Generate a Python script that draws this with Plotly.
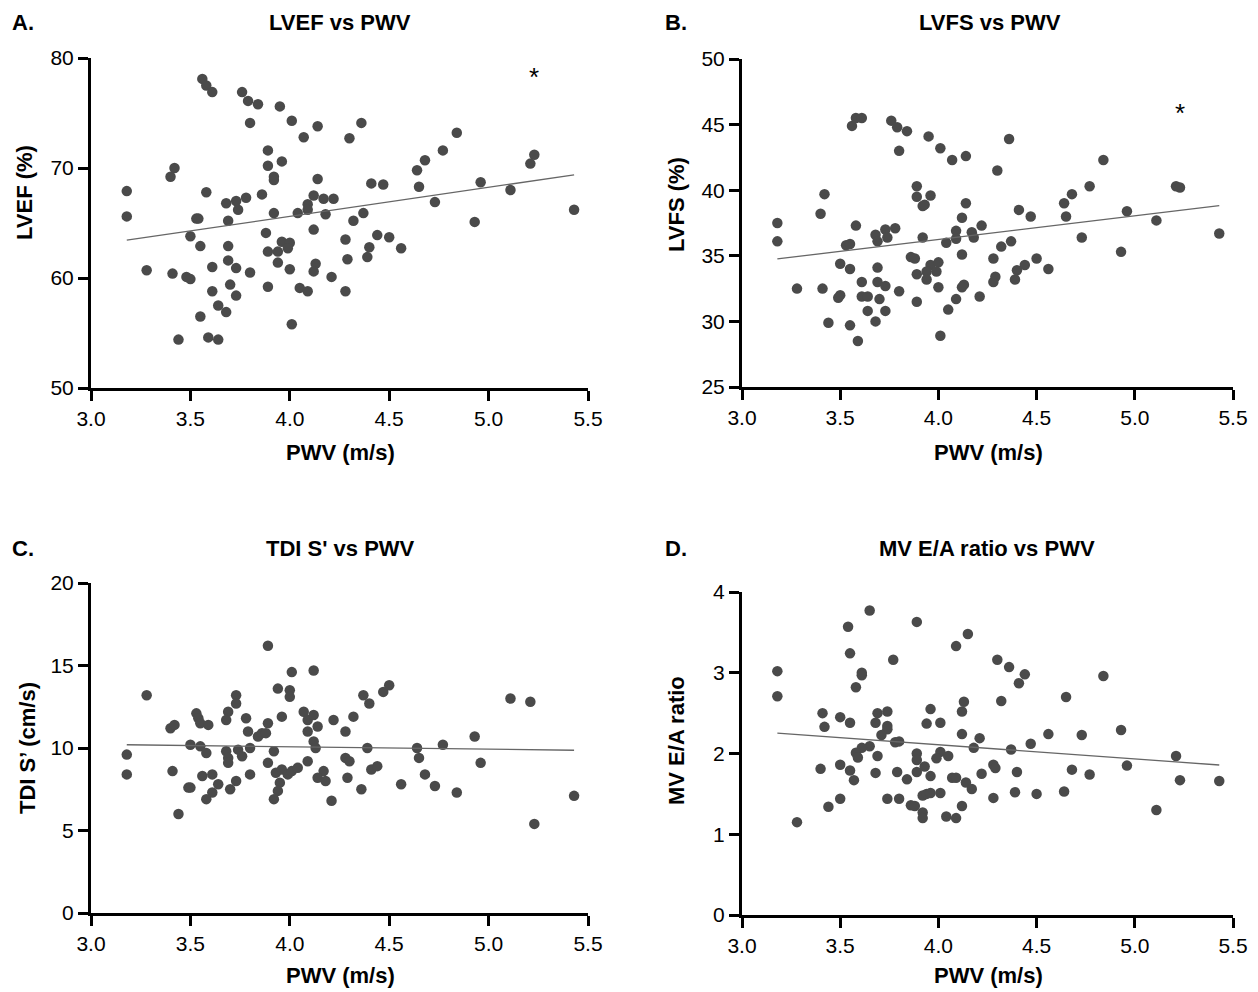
import numpy as np
import plotly.graph_objects as go

# ---------------- data ----------------
lvef_pwv = [3.56,3.58,3.61,3.76,3.79,3.84,3.95,3.80,4.01,4.14,
            4.36,4.07,4.30,4.84,4.77,4.68,4.64,5.23,5.21,3.89,
            3.89,3.96,3.42,3.40,3.92,3.92,4.14,4.41,4.47,4.65,
            4.96,3.18,3.58,3.86,3.78,3.73,3.68,3.74,4.12,4.17,
            4.22,4.09,4.09,5.11,4.73,3.18,3.53,3.54,3.69,3.92,
            4.04,4.18,4.37,4.32,4.93,5.43,4.12,3.50,3.88,3.55,
            3.69,3.96,4.00,3.99,3.89,3.94,4.28,4.44,4.50,4.40,
            4.56,4.39,4.29,3.69,3.61,3.73,3.94,4.13,4.00,4.12,
            3.80,3.28,3.41,3.48,3.50,4.21,3.70,3.89,4.05,4.09,
            4.28,3.61,3.73,3.64,3.68,3.55,4.01,3.44,3.59,3.64]
lvef = [78.1,77.5,76.9,76.9,76.1,75.8,75.6,74.1,74.3,73.8,
        74.1,72.8,72.7,73.2,71.6,70.7,69.8,71.2,70.4,71.6,
        70.2,70.6,70.0,69.2,69.2,68.9,69.0,68.6,68.5,68.3,
        68.7,67.9,67.8,67.6,67.3,67.0,66.8,66.2,67.5,67.2,
        67.2,66.7,66.2,68.0,66.9,65.6,65.4,65.4,65.2,65.9,
        65.9,65.8,65.9,65.2,65.1,66.2,64.4,63.8,64.1,62.9,
        62.9,63.3,63.2,62.7,62.4,62.4,63.5,63.9,63.7,62.8,
        62.7,61.9,61.7,61.6,61.0,60.9,61.4,61.3,60.8,60.6,
        60.5,60.7,60.4,60.1,59.9,60.1,59.4,59.2,59.1,58.8,
        58.8,58.8,58.4,57.5,56.9,56.5,55.8,54.4,54.6,54.4]

lvfs_pwv = [3.56,3.58,3.61,3.76,3.79,3.84,3.95,3.80,4.01,4.07,
            4.14,4.36,4.30,4.84,4.77,4.68,4.64,4.65,5.21,5.23,
            3.42,3.40,3.89,3.89,3.96,3.92,3.93,4.14,4.41,4.47,
            4.96,5.11,3.18,3.18,3.58,4.12,4.22,3.73,3.78,3.68,
            3.74,3.69,4.09,4.09,4.17,4.18,3.92,4.73,4.04,3.53,
            3.55,4.37,4.32,5.43,4.93,4.12,3.86,3.88,3.50,3.55,
            3.69,4.28,4.50,4.56,4.44,4.40,3.96,4.00,3.94,3.99,
            3.89,4.29,4.28,4.39,3.61,3.69,3.73,3.94,4.13,4.12,
            4.00,3.80,3.28,3.41,3.50,3.49,3.61,3.64,3.70,4.09,
            4.21,3.89,3.64,3.73,4.05,3.44,3.55,3.68,4.01,3.59]
lvfs = [44.9,45.5,45.5,45.3,44.8,44.5,44.1,43.0,43.2,42.3,
        42.6,43.9,41.5,42.3,40.3,39.7,39.0,38.0,40.3,40.2,
        39.7,38.2,40.3,39.5,39.6,38.8,38.9,39.0,38.5,38.0,
        38.4,37.7,37.5,36.1,37.3,37.9,37.3,37.0,37.1,36.6,
        36.4,36.1,36.9,36.3,36.8,36.4,36.4,36.4,36.0,35.8,
        35.9,36.1,35.7,36.7,35.3,35.1,34.9,34.8,34.4,34.0,
        34.1,34.8,34.8,34.0,34.3,33.9,34.3,34.5,33.8,33.8,
        33.6,33.4,33.0,33.2,33.0,33.0,32.7,33.2,32.8,32.6,
        32.6,32.3,32.5,32.5,32.0,31.8,31.9,31.9,31.7,31.7,
        31.9,31.5,30.8,30.8,30.9,29.9,29.7,30.0,28.9,28.5]

tdi_pwv = [3.89,4.01,4.12,3.28,3.94,4.00,4.00,3.73,3.73,4.37,
           4.40,4.47,4.50,5.11,5.21,3.53,3.54,3.55,3.59,3.69,
           3.68,3.40,3.42,3.78,3.79,3.89,3.96,3.84,3.86,3.88,
           4.07,4.09,4.12,4.14,4.09,4.22,4.28,4.32,4.93,4.12,
           4.13,4.39,4.64,4.77,3.50,3.55,3.58,3.80,3.74,3.68,
           3.69,3.69,3.76,3.92,3.18,3.18,3.41,3.89,4.09,4.28,
           4.30,4.65,4.96,3.56,3.61,3.80,3.93,3.96,3.99,4.01,
           4.04,4.17,4.41,4.44,4.68,3.73,3.64,3.95,4.14,4.18,
           4.29,4.56,4.73,3.49,3.50,3.61,3.70,3.58,3.94,3.92,
           4.36,4.21,4.84,5.43,3.44,5.23]
tdi_s = [16.2,14.6,14.7,13.2,13.6,13.5,13.1,13.2,12.7,13.2,
         12.7,13.4,13.8,13.0,12.8,12.1,11.8,11.5,11.4,12.2,
         11.7,11.2,11.4,11.8,11.0,11.5,11.9,10.7,10.9,10.9,
         12.2,11.7,12.0,11.3,11.0,11.7,11.0,11.9,10.7,10.4,
         10.0,10.0,10.0,10.2,10.2,10.1,9.7,10.0,9.9,9.8,
         9.4,9.1,9.5,9.8,9.6,8.4,8.6,9.1,9.2,9.4,
         9.2,9.4,9.1,8.3,8.4,8.4,8.5,8.7,8.4,8.6,
         8.8,8.6,8.7,8.9,8.4,8.0,7.8,7.9,8.2,8.0,
         8.2,7.8,7.7,7.6,7.6,7.3,7.5,6.9,7.4,6.9,
         7.5,6.8,7.3,7.1,6.0,5.4]

ea_pwv = [3.65,3.54,3.89,4.15,4.09,3.55,3.77,4.30,4.36,4.44,
          4.41,4.84,3.18,3.18,3.61,3.61,3.58,4.65,4.13,4.32,
          4.12,3.96,3.41,3.50,3.42,3.55,3.69,3.74,3.68,3.74,
          3.74,3.71,3.94,4.01,4.12,4.21,4.56,4.73,4.93,3.78,
          3.80,4.47,3.65,3.61,3.58,3.59,3.69,3.89,3.89,4.01,
          3.99,4.05,4.18,4.37,5.21,3.40,3.50,3.55,3.57,3.68,
          3.79,3.84,3.89,3.93,3.96,4.28,4.29,4.22,4.40,4.68,
          4.77,4.96,5.23,5.43,4.07,4.09,4.14,4.17,3.92,3.94,
          3.96,4.01,3.74,3.80,3.50,3.44,3.86,3.88,4.12,4.28,
          4.39,4.50,4.64,3.92,3.92,4.04,4.09,5.11,3.28]
ea_ratio = [3.77,3.57,3.63,3.48,3.33,3.24,3.16,3.16,3.07,2.98,
            2.87,2.96,3.02,2.71,3.00,2.97,2.82,2.70,2.64,2.65,
            2.52,2.55,2.50,2.45,2.33,2.38,2.50,2.52,2.38,2.34,
            2.30,2.23,2.37,2.38,2.24,2.19,2.24,2.23,2.29,2.14,
            2.15,2.12,2.09,2.07,2.01,1.95,1.97,2.00,1.92,2.02,
            1.94,1.97,2.07,2.05,1.97,1.81,1.86,1.79,1.67,1.76,
            1.77,1.68,1.77,1.84,1.72,1.86,1.82,1.75,1.77,1.80,
            1.74,1.85,1.67,1.66,1.70,1.70,1.64,1.56,1.48,1.50,
            1.51,1.51,1.44,1.44,1.44,1.34,1.36,1.35,1.35,1.45,
            1.52,1.50,1.53,1.27,1.20,1.22,1.20,1.30,1.15]

panel_letters = ["A.", "B.", "C.", "D."]
panel_titles = ["LVEF vs PWV", "LVFS vs PWV", "TDI S' vs PWV", "MV E/A ratio vs PWV"]
y_titles = ["LVEF (%)", "LVFS (%)", "TDI S’ (cm/s)", "MV E/A ratio"]
x_title = "PWV (m/s)"
x_ticks = [3.0, 3.5, 4.0, 4.5, 5.0, 5.5]
y_ticks = [[50, 60, 70, 80], [25, 30, 35, 40, 45, 50], [0, 5, 10, 15, 20], [0, 1, 2, 3, 4]]
sig_marks = [("*", 5.23, 78.3), ("*", 5.23, 45.85), None, None]

# ---------------- styling ----------------
FONT = "Liberation Sans, Arial, Helvetica, sans-serif"
DOT = "#4a4a4a"
PAGE_W, PAGE_H = 1258, 992
OFF = 8                       # default page body margin
W, H = PAGE_W - OFF, PAGE_H - OFF

# positions in page pixels: plot areas (left, right, top, bottom)
areas = [(91, 588, 58, 388), (742, 1233, 59, 387),
         (91, 588, 583, 913), (742, 1233, 592, 915)]
title_pos = [(340, 22), (990, 22), (340, 548), (987, 548)]
letter_pos = [(10, 22), (663, 22), (10, 548), (663, 548)]
xtitle_pos = [(340, 453), (988, 453), (340, 975), (988, 975)]
ytitle_pos = [(25, 193), (676, 205), (27, 748), (676, 741)]

series = [(lvef_pwv, lvef), (lvfs_pwv, lvfs), (tdi_pwv, tdi_s), (ea_pwv, ea_ratio)]

fig = go.Figure()
layout = {}
annotations = []

def px(x):
    return (x - OFF) / W

def py(y):
    return 1 - (y - OFF) / H

for i, ((xs, ys), area) in enumerate(zip(series, areas)):
    n = i + 1
    xa = "x" if n == 1 else f"x{n}"
    ya = "y" if n == 1 else f"y{n}"
    xs = np.array(xs)
    ys = np.array(ys)
    fig.add_trace(go.Scatter(x=xs, y=ys, mode="markers", xaxis=xa, yaxis=ya,
                             marker=dict(size=10.5, color=DOT, line=dict(width=0)),
                             showlegend=False, hoverinfo="skip", cliponaxis=False))
    slope, intercept = np.polyfit(xs, ys, 1)
    fx = np.array([xs.min(), xs.max()])
    fig.add_trace(go.Scatter(x=fx, y=slope * fx + intercept, mode="lines",
                             xaxis=xa, yaxis=ya,
                             line=dict(color="#666666", width=1.3),
                             showlegend=False, hoverinfo="skip"))
    l, r, t, b = area
    yt = y_ticks[i]
    axis_common = dict(showline=True, linecolor="black", linewidth=3,
                       ticks="outside", ticklen=10, tickwidth=3, tickcolor="black",
                       showgrid=False, zeroline=False, automargin=False,
                       tickfont=dict(family=FONT, size=21, color="black"))
    layout["xaxis" if n == 1 else f"xaxis{n}"] = dict(
        domain=[px(l), px(r)], anchor=ya, range=[3.0, 5.5],
        tickvals=x_ticks, ticktext=[f"{v:.1f}" for v in x_ticks], **axis_common)
    layout["yaxis" if n == 1 else f"yaxis{n}"] = dict(
        domain=[py(b), py(t)], anchor=xa, range=[yt[0], yt[-1]],
        tickvals=yt, ticktext=[str(v) for v in yt], **axis_common)

    big = dict(family=FONT, size=22, color="black")
    annotations.append(dict(x=px(title_pos[i][0]), y=py(title_pos[i][1]), xref="paper", yref="paper",
                            text=f"<b>{panel_titles[i]}</b>", showarrow=False,
                            xanchor="center", yanchor="middle", font=big))
    annotations.append(dict(x=px(letter_pos[i][0]), y=py(letter_pos[i][1]), xref="paper", yref="paper",
                            text=f"<b>{panel_letters[i]}</b>", showarrow=False,
                            xanchor="left", yanchor="middle", font=big))
    annotations.append(dict(x=px(xtitle_pos[i][0]), y=py(xtitle_pos[i][1]), xref="paper", yref="paper",
                            text=f"<b>{x_title}</b>", showarrow=False,
                            xanchor="center", yanchor="middle", font=big))
    annotations.append(dict(x=px(ytitle_pos[i][0]), y=py(ytitle_pos[i][1]), xref="paper", yref="paper",
                            text=f"<b>{y_titles[i]}</b>", showarrow=False, textangle=-90,
                            xanchor="center", yanchor="middle", font=big))
    if sig_marks[i]:
        txt, sx, sy = sig_marks[i]
        annotations.append(dict(x=sx, y=sy, xref=xa, yref=ya, text=txt,
                                showarrow=False, xanchor="center", yanchor="middle",
                                font=dict(family=FONT, size=26, color="black")))

fig.update_layout(width=W, height=H,
                  margin=dict(l=0, r=0, t=0, b=0, pad=0, autoexpand=False),
                  paper_bgcolor="white", plot_bgcolor="white",
                  annotations=annotations, **layout)

fig.write_html("out.html")
